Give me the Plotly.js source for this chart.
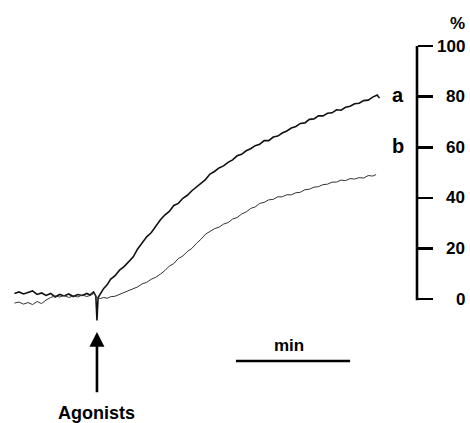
<!DOCTYPE html>
<html><head><meta charset="utf-8">
<script src="https://cdn.plot.ly/plotly-3.0.1.min.js"></script>
<style>html,body{margin:0;padding:0;background:#fff}#chart{width:470px;height:423px}</style>
</head><body><div id="chart"></div>
<script>
// time in minutes relative to agonist addition; response in %
const timeA = [-0.73,-0.69,-0.65,-0.61,-0.57,-0.53,-0.49,-0.45,-0.41,-0.37,-0.33,-0.29,-0.25,-0.21,-0.17,-0.13,-0.09,-0.06,-0.03,-0.01,0.00,0.01,
  0.03,0.06,0.09,0.12,0.16,0.20,0.24,0.28,0.32,0.36,0.40,0.44,0.48,0.52,0.56,0.60,0.64,0.68,0.72,0.76,0.80,0.84,0.88,0.92,0.96,1.00,
  1.04,1.08,1.12,1.16,1.20,1.24,1.28,1.32,1.36,1.40,1.44,1.48,1.52,1.56,1.60,1.64,1.68,1.72,1.76,1.80,1.84,1.88,1.92,1.96,2.00,
  2.04,2.08,2.12,2.16,2.20,2.24,2.28,2.32,2.36,2.40,2.44,2.48,2.50];
const valuesA = [2.2,2.8,2.0,2.6,3.2,1.8,2.4,1.4,2.2,0.8,1.8,1.2,2.0,1.0,1.8,1.4,2.2,1.6,2.8,1.2,-8.5,0.6,
  2.0,4.2,5.6,7.8,9.2,11.4,12.8,14.8,16.6,19.8,22.4,24.6,26.2,28.8,31.2,33.2,34.6,37.0,37.8,39.8,41.0,42.8,44.2,45.8,47.2,49.4,
  50.4,51.8,52.6,54.0,55.0,56.6,57.2,58.6,59.4,60.6,61.2,62.6,62.6,64.0,64.4,65.6,66.4,67.6,68.2,69.4,69.6,71.0,71.2,72.4,72.4,
  73.4,73.6,74.8,74.6,75.8,76.2,77.2,77.4,78.4,78.6,79.8,80.6,79.4];
const timeB = [-0.73,-0.69,-0.65,-0.61,-0.57,-0.53,-0.49,-0.45,-0.41,-0.37,-0.33,-0.29,-0.25,-0.21,-0.17,-0.13,-0.09,-0.06,-0.03,-0.01,0.00,
  0.03,0.06,0.09,0.12,0.16,0.20,0.24,0.28,0.32,0.36,0.40,0.44,0.48,0.52,0.56,0.60,0.64,0.68,0.72,0.76,0.80,0.84,0.88,0.92,0.96,1.00,
  1.04,1.08,1.12,1.16,1.20,1.24,1.28,1.32,1.36,1.40,1.44,1.48,1.52,1.56,1.60,1.64,1.68,1.72,1.76,1.80,1.84,1.88,1.92,1.96,2.00,
  2.04,2.08,2.12,2.16,2.20,2.24,2.28,2.32,2.36,2.40,2.44,2.47];
const valuesB = [-1.6,-1.2,-2.0,-1.4,-2.2,-1.0,-1.8,-0.4,0.6,1.2,0.8,1.4,0.6,1.2,0.8,1.6,1.0,1.4,2.2,1.0,0.6,
  0.2,0.6,0.3,0.9,1.1,1.8,2.8,3.2,4.2,4.8,6.0,6.6,7.8,8.6,9.8,11.2,13.0,14.0,16.0,17.0,18.8,20.0,22.0,23.6,25.6,26.6,
  27.8,28.4,29.6,30.2,31.6,32.2,33.6,34.4,35.8,36.4,37.8,38.2,39.2,39.4,40.4,40.4,41.2,41.2,42.0,42.2,43.2,43.4,44.2,44.4,45.2,
  45.4,46.2,46.2,47.0,46.8,47.6,47.4,48.0,47.8,48.8,48.6,49.2,48.8];
const yTicks = [0,20,40,60,80,100];
const seriesLabels = ['a','b'];

const FONT = 'Liberation Sans, Arial, sans-serif';
const bold = s => '<b>' + s + '</b>';
const traces = [
  {x: timeA, y: valuesA, mode: 'lines', line: {color: '#111', width: 1.6}, hoverinfo: 'skip'},
  {x: timeB, y: valuesB, mode: 'lines', line: {color: '#333', width: 1.0}, hoverinfo: 'skip'}
];
const annotations = [
  {x: 2.66, y: 80.6, xref: 'x', yref: 'y', text: bold(seriesLabels[0]), showarrow: false,
    font: {family: FONT, size: 20, color: '#000'}},
  {x: 2.66, y: 60.5, xref: 'x', yref: 'y', text: bold(seriesLabels[1]), showarrow: false,
    font: {family: FONT, size: 20, color: '#000'}},
  {x: 1.121, y: 1.061, xref: 'paper', yref: 'paper', xanchor: 'right', yanchor: 'middle', text: bold('%'), showarrow: false,
    font: {family: FONT, size: 17, color: '#000'}},
  {x: 1.70, y: -18.2, xref: 'x', yref: 'y', text: bold('min'), showarrow: false,
    font: {family: FONT, size: 17, color: '#000'}},
  {x: 0.0, y: -45.1, xref: 'x', yref: 'y', text: bold('Agonists'), showarrow: false,
    font: {family: FONT, size: 18, color: '#000'}},
  {x: 0.0, y: -13.0, xref: 'x', yref: 'y', ax: 0.0, ay: -37.4, axref: 'x', ayref: 'y',
    text: '', showarrow: true, arrowhead: 2, arrowsize: 1.15, arrowwidth: 2.6, arrowcolor: '#000', standoff: 0}
];
yTicks.forEach(v => annotations.push({x: 1.121, y: v, xref: 'paper', yref: 'y', xanchor: 'right', yanchor: 'middle',
  text: bold(String(v)), showarrow: false, font: {family: FONT, size: 17, color: '#000'}}));
const layout = {
  width: 470, height: 423,
  margin: {l: 0, r: 53, t: 46, b: 0},
  paper_bgcolor: '#fff', plot_bgcolor: '#fff',
  showlegend: false,
  xaxis: {range: [-0.858, 2.832], visible: false, fixedrange: true},
  yaxis: {range: [-49, 100], side: 'right', showgrid: false, zeroline: false, showline: false,
    tickvals: yTicks, showticklabels: false, ticks: 'outside', ticklen: 15, tickwidth: 2.6,
    tickcolor: '#000', fixedrange: true},
  shapes: [
    {type: 'line', xref: 'paper', yref: 'y', x0: 1, x1: 1, y0: -0.5, y1: 100.5, line: {color: '#000', width: 2.6}},
    {type: 'line', xref: 'x', yref: 'y', x0: 1.23, x1: 2.24, y0: -24.5, y1: -24.5, line: {color: '#000', width: 2.5}}
  ],
  annotations: annotations
};
Plotly.newPlot('chart', traces, layout, {staticPlot: true, displayModeBar: false});
</script>
</body></html>
